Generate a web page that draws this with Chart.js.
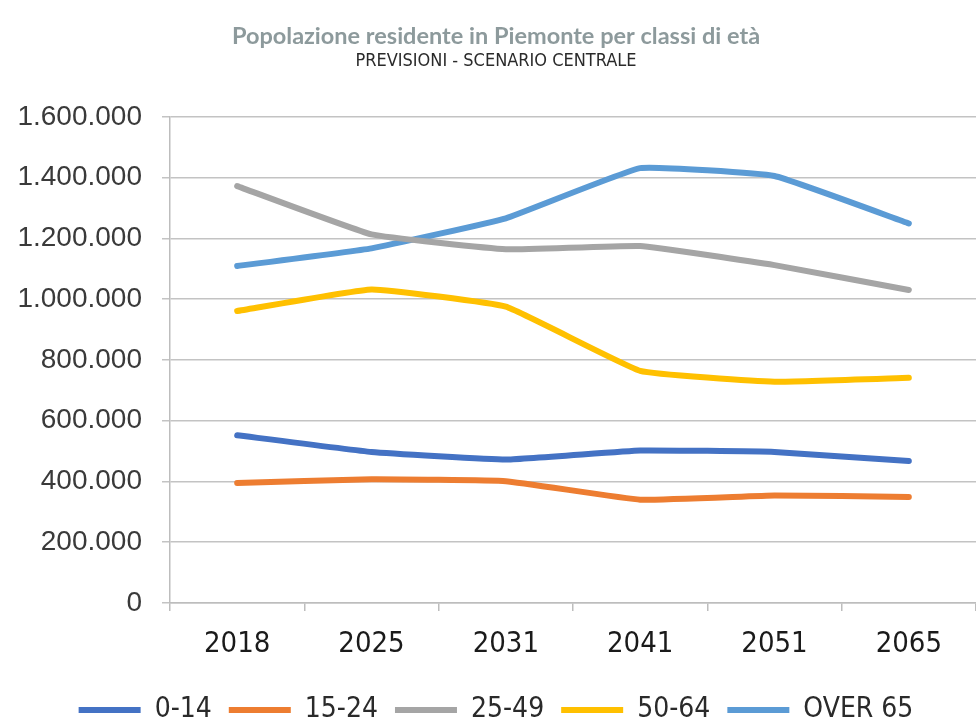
<!DOCTYPE html>
<html>
<head>
<meta charset="utf-8">
<script src="https://cdn.jsdelivr.net/npm/chart.js@4"></script>
<style>
  html, body { margin: 0; padding: 0; background: #fff; }
  #box { width: 976px; height: 721px; position: relative; }
</style>
</head>
<body>
<div id="box"><canvas id="grafico"></canvas></div>
<script>
// anni di previsione
var anni = ['2018', '2025', '2031', '2041', '2051', '2065'];

// popolazione per classe di età
var eta0_14   = [552000, 497000, 472000, 502000, 497000, 467000];
var eta15_24  = [395000, 407000, 401000, 340000, 354000, 349000];
var eta25_49  = [1372000, 1213000, 1164000, 1175000, 1112000, 1030000];
var eta50_64  = [961000, 1032000, 975000, 764000, 728000, 741000];
var over65    = [1109000, 1167000, 1266000, 1431000, 1405000, 1249000];

var nomiSerie = ['0-14', '15-24', '25-49', '50-64', 'OVER 65'];
var colori = ['#4472C4', '#ED7D31', '#A5A5A5', '#FFC000', '#5B9BD5'];

var tickY = [0, 200000, 400000, 600000, 800000, 1000000, 1200000, 1400000, 1600000];

function puntini(n){
  // separatore delle migliaia all'italiana
  return n.toString().replace(/\B(?=(\d{3})+(?!\d))/g, '.');
}

var serie = [eta0_14, eta15_24, eta25_49, eta50_64, over65];
var datasets = serie.map(function(valori, i){
  return {
    label: nomiSerie[i],
    data: valori,
    borderColor: colori[i],
    backgroundColor: colori[i],
    borderWidth: 6,
    borderCapStyle: 'round',
    borderJoinStyle: 'round',
    pointRadius: 0,
    tension: 0.1
  };
});

var narrow = "'DejaVu Sans Condensed', 'Liberation Sans', sans-serif";

var ctx = document.getElementById('grafico').getContext('2d');
var char1 = new Chart(ctx, {
  type: 'line',
  data: { labels: anni, datasets: datasets },
  options: {
    responsive: true,
    maintainAspectRatio: false,
    animation: false,
    layout: { padding: { left: 16, right: 0, top: 0, bottom: -13 } },
    plugins: {
      title: {
        display: true,
        text: 'Popolazione residente in Piemonte per classi di età',
        color: '#8d9a9c',
        font: { family: 'Lato', size: 23.5, weight: 'bold' },
        padding: { top: 22, bottom: 0 }
      },
      subtitle: {
        display: true,
        text: 'PREVISIONI - SCENARIO CENTRALE',
        color: '#2a2a2a',
        font: { family: narrow, size: 18 },
        padding: { top: 0, bottom: 45 }
      },
      legend: {
        position: 'bottom',
        labels: {
          usePointStyle: true,
          pointStyle: 'line',
          pointStyleWidth: 62,
          boxHeight: 6,
          color: '#2a2a2a',
          padding: 17,
          font: { family: narrow, size: 28 }
        }
      },
      tooltip: { enabled: false }
    },
    scales: {
      x: {
        offset: true,
        afterFit: function(scale){ scale.height = 76; },
        grid: {
          offset: true,
          drawOnChartArea: false,
          drawTicks: true,
          tickLength: 8,
          color: '#bdbdbd',
          lineWidth: 1.5
        },
        border: { color: '#bdbdbd', width: 1.5 },
        ticks: {
          color: '#1a1a1a',
          padding: 16,
          font: { family: narrow, size: 29 }
        }
      },
      y: {
        min: 0,
        max: 1600000,
        afterBuildTicks: function(scale){
          scale.ticks = tickY.map(function(v){ return { value: v }; });
        },
        afterFit: function(scale){ scale.width = 154; },
        grid: {
          color: '#c3c3c3',
          lineWidth: 1.5,
          tickLength: 8
        },
        border: { color: '#bdbdbd', width: 1.5 },
        ticks: {
          color: '#3a3a3a',
          padding: 20,
          font: { family: "'Liberation Sans', sans-serif", size: 28 },
          callback: function(v){ return puntini(v); }
        }
      }
    }
  }
});
</script>
</body>
</html>
